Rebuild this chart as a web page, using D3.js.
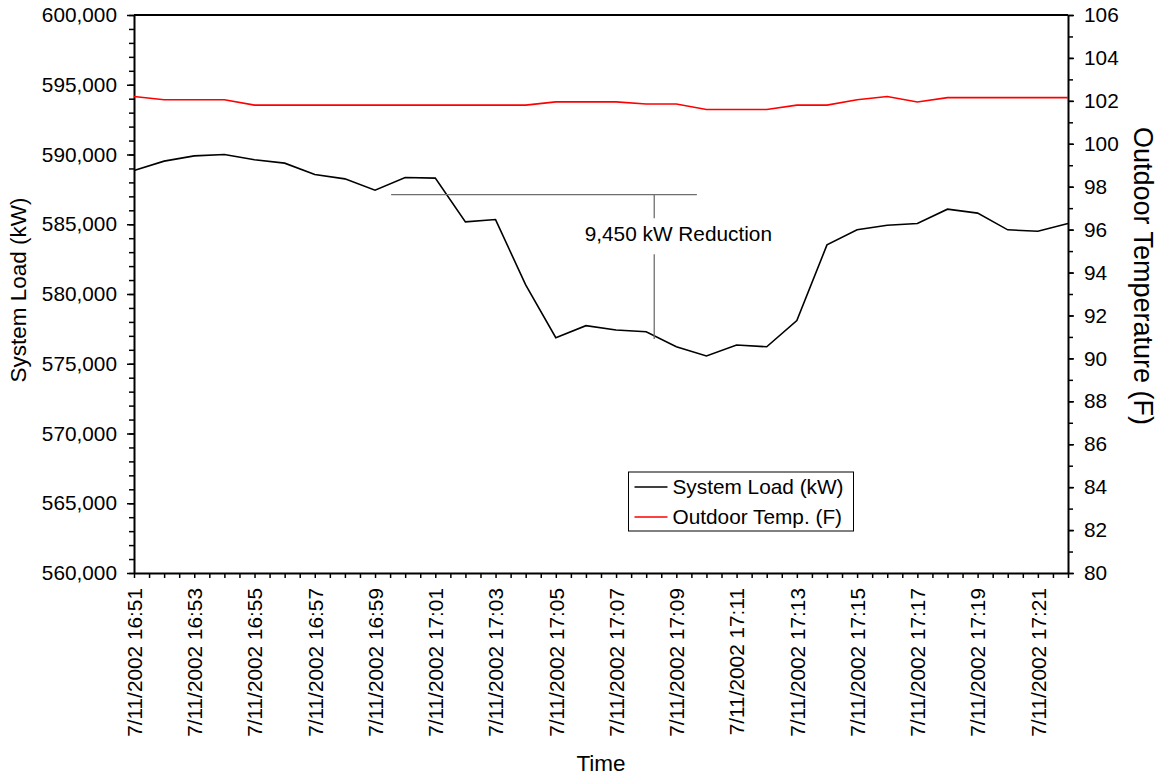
<!DOCTYPE html>
<html>
<head>
<meta charset="utf-8">
<script src="https://cdn.jsdelivr.net/npm/d3@7"></script>
<style>
  body { margin: 0; background: #fff; }
  svg { display: block; font-family: "Liberation Sans", Arial, sans-serif; }
</style>
</head>
<body>
<div id="wrapper"></div>
<script>
// minutes from 16:51 to 17:22 on 7/11/2002
const startTime = new Date(2002, 6, 11, 16, 51)
const endTime = new Date(2002, 6, 11, 17, 22)
const systemLoad = [588850, 589525, 589900, 590000, 589620, 589380, 588565, 588255, 587445, 588350,
  588305, 585170, 585335, 580650, 576870, 577730, 577420, 577300, 576220, 575555,
  576340, 576220, 578090, 583520, 584600, 584930, 585050, 586080, 585800, 584600,
  584500, 585050]
const outdoorTemp = [102.2, 102.05, 102.05, 102.05, 101.8, 101.8, 101.8, 101.8, 101.8, 101.8,
  101.8, 101.8, 101.8, 101.8, 101.95, 101.95, 101.95, 101.85, 101.85, 101.6,
  101.6, 101.6, 101.8, 101.8, 102.05, 102.2, 101.95, 102.15, 102.15, 102.15,
  102.15, 102.15]
const loadTicks = d3.range(560000, 600001, 5000)
const loadMinor = d3.range(560000, 600001, 1000)
const tempTicks = d3.range(80, 107, 2)
const tempMinor = d3.range(80, 107, 1)
const seriesNames = ["System Load (kW)", "Outdoor Temp. (F)"]
const seriesColors = ["#000000", "#ff0000"]
// annotation (in data units): bracket line and label
const reduceLabel = "9,450 kW Reduction"
const bracketFrom = new Date(2002, 6, 11, 16, 59, 32)
const bracketTo = new Date(2002, 6, 11, 17, 9, 41)
const bracketAt = new Date(2002, 6, 11, 17, 8, 16)
const bracketTop = 587130
const bracketBottom = 576780
const labelGap = [585430, 582850]
const labelAt = new Date(2002, 6, 11, 17, 9, 4)
const labelLoad = 583800

const times = systemLoad.map((d, i) => d3.timeMinute.offset(startTime, i))
const dat = times.map((t, i) => ({ time: t, load: systemLoad[i], temp: outdoorTemp[i] }))

let dimensions = { width: 1157, height: 776, margin: { top: 15, right: 89, bottom: 203, left: 134 } }
const boundWidth = dimensions.width - dimensions.margin.left - dimensions.margin.right
const boundHeight = dimensions.height - dimensions.margin.top - dimensions.margin.bottom

const wrapper = d3.select("#wrapper").append("svg")
  .attr("width", dimensions.width)
  .attr("height", dimensions.height)
const bounds = wrapper.append("g")
  .attr("transform", `translate(${dimensions.margin.left},${dimensions.margin.top})`)

// scales
const xScale = d3.scaleTime().domain([startTime, endTime]).range([0, boundWidth])
const yLoad = d3.scaleLinear().domain([560000, 600000]).range([boundHeight, 0])
const yTemp = d3.scaleLinear().domain([80, 106]).range([boundHeight, 0])

const fs = "20.8px"

// top frame line
bounds.append("line")
  .attr("x1", 0).attr("x2", boundWidth)
  .attr("y1", yLoad(600000)).attr("y2", yLoad(600000))
  .attr("stroke", "#000").attr("stroke-width", 2)

// left axis
const styleAxis = g => {
  g.select(".domain").attr("stroke-width", 2)
  g.selectAll(".tick line").attr("stroke-width", 1.5)
  g.selectAll("text").style("font-size", fs).attr("fill", "#000")
}
bounds.append("g")
  .call(d3.axisLeft(yLoad).tickValues(loadMinor).tickSize(5).tickFormat(""))
  .call(g => g.select(".domain").remove())
  .selectAll("line").attr("stroke-width", 1.5)
bounds.append("g")
  .call(d3.axisLeft(yLoad).tickValues(loadTicks).tickSize(7).tickPadding(10).tickFormat(d3.format(",")).tickSizeOuter(0))
  .call(styleAxis)

// right axis
bounds.append("g").attr("transform", `translate(${boundWidth},0)`)
  .call(d3.axisRight(yTemp).tickValues(tempMinor).tickSize(5).tickFormat(""))
  .call(g => g.select(".domain").remove())
  .selectAll("line").attr("stroke-width", 1.5)
bounds.append("g").attr("transform", `translate(${boundWidth},0)`)
  .call(d3.axisRight(yTemp).tickValues(tempTicks).tickSize(6).tickPadding(10).tickSizeOuter(0))
  .call(styleAxis)

// bottom axis
const xTickVals = d3.timeSecond.every(30).range(startTime, d3.timeSecond.offset(endTime, 1))
const fmt = d3.timeFormat("%-m/%-d/%Y %H:%M")
const xAxis = bounds.append("g").attr("transform", `translate(0,${boundHeight})`)
  .call(d3.axisBottom(xScale).tickValues(xTickVals).tickSize(5).tickSizeOuter(0)
    .tickFormat(d => (d.getSeconds() === 0 && d.getMinutes() % 2 === 1) ? fmt(d) : ""))
  .call(styleAxis)
xAxis.selectAll("text")
  .attr("transform", "rotate(-90)")
  .attr("text-anchor", "end")
  .attr("x", -15)
  .attr("y", 0)
  .attr("dy", "0.35em")

// lines
const loadLine = d3.line().x(d => xScale(d.time)).y(d => yLoad(d.load))
const tempLine = d3.line().x(d => xScale(d.time)).y(d => yTemp(d.temp))
bounds.append("path").datum(dat)
  .attr("d", tempLine).attr("fill", "none")
  .attr("stroke", seriesColors[1]).attr("stroke-width", 1.6)
bounds.append("path").datum(dat)
  .attr("d", loadLine).attr("fill", "none")
  .attr("stroke", seriesColors[0]).attr("stroke-width", 1.6)

// annotation
const ann = bounds.append("g").attr("stroke", "#6e6e6e").attr("stroke-width", 1.3)
ann.append("line")
  .attr("x1", xScale(bracketFrom)).attr("x2", xScale(bracketTo))
  .attr("y1", yLoad(bracketTop)).attr("y2", yLoad(bracketTop))
ann.append("line")
  .attr("x1", xScale(bracketAt)).attr("x2", xScale(bracketAt))
  .attr("y1", yLoad(bracketTop)).attr("y2", yLoad(labelGap[0]))
ann.append("line")
  .attr("x1", xScale(bracketAt)).attr("x2", xScale(bracketAt))
  .attr("y1", yLoad(labelGap[1])).attr("y2", yLoad(bracketBottom))
bounds.append("text")
  .attr("x", xScale(labelAt)).attr("y", yLoad(labelLoad))
  .attr("text-anchor", "middle")
  .style("font-size", fs)
  .text(reduceLabel)

// axis titles
wrapper.append("text")
  .attr("transform", `translate(${dimensions.margin.left + boundWidth / 2},771)`)
  .attr("text-anchor", "middle")
  .style("font-size", "22.5px")
  .text("Time")
wrapper.append("text")
  .attr("transform", `translate(26,${dimensions.margin.top + boundHeight / 2 - 4}) rotate(-90)`)
  .attr("text-anchor", "middle")
  .style("font-size", "22.5px")
  .text("System Load (kW)")
wrapper.append("text")
  .attr("transform", `translate(1134,${dimensions.margin.top + boundHeight / 2 - 18}) rotate(90)`)
  .attr("text-anchor", "middle")
  .style("font-size", "27px")
  .text("Outdoor Temperature (F)")

// legend
const legend = wrapper.append("g").attr("transform", "translate(628.5,472)")
legend.append("rect")
  .attr("width", 225).attr("height", 59)
  .attr("fill", "#fff").attr("stroke", "#000").attr("stroke-width", 1)
const items = legend.selectAll("g.item").data(seriesNames).enter().append("g")
  .attr("transform", (d, i) => `translate(0,${15 + i * 30})`)
items.append("line")
  .attr("x1", 6).attr("x2", 39).attr("y1", 0).attr("y2", 0)
  .attr("stroke", (d, i) => seriesColors[i]).attr("stroke-width", 1.6)
items.append("text")
  .attr("x", 44).attr("dy", "0.35em")
  .style("font-size", fs)
  .text(d => d)
</script>
</body>
</html>
